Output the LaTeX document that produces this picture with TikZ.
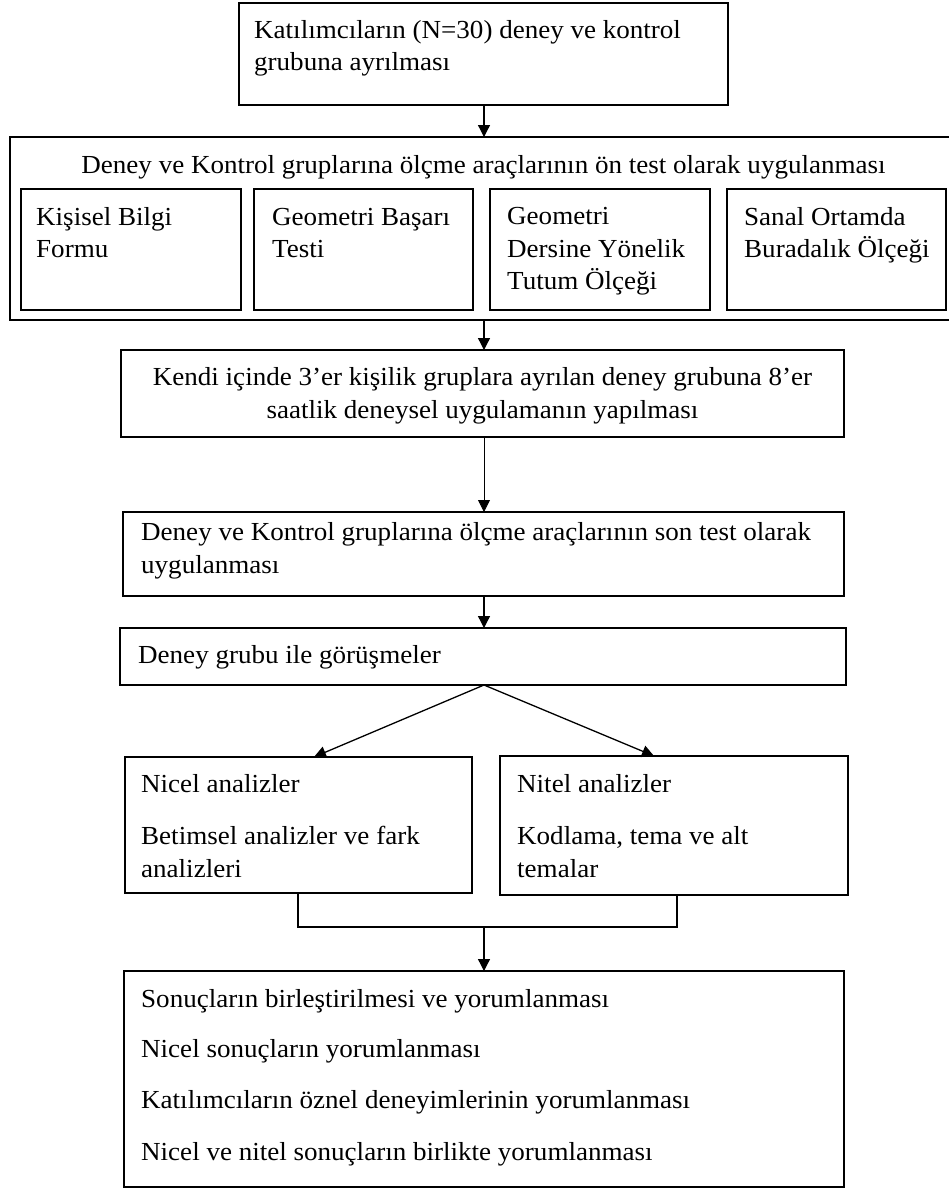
\documentclass[tikz,border=0pt]{standalone}
\usepackage{fontspec}
\setmainfont[FakeStretch=1.04]{Liberation Serif}
\usetikzlibrary{arrows.meta,calc}
\begin{document}
\begin{tikzpicture}[x=1pt,y=-1pt,
  box/.style={draw, line width=1.4pt, inner sep=0pt, outer sep=0pt, anchor=north west},
  ln/.style={inner sep=0pt, anchor=base west, font=\fontsize{26}{33}\selectfont},
  lnc/.style={ln, anchor=base},
  arr/.style={line width=1.3pt, -{Triangle[length=12pt,width=12pt]}},
  thinarr/.style={arr, line width=0.8pt},
  link/.style={line width=1.3pt},
]
\useasboundingbox (0,0) rectangle (948,1189);

% ---- boxes ----
\node[box, minimum width=489pt, minimum height=102pt] (top)   at (239,3)   {};
\node[box, minimum width=940pt, minimum height=183pt] (pre)   at (10,137)  {};
\node[box, minimum width=220pt, minimum height=121pt] (b1)    at (21,189)  {};
\node[box, minimum width=219pt, minimum height=121pt] (b2)    at (254,189) {};
\node[box, minimum width=220pt, minimum height=121pt] (b3)    at (490,189) {};
\node[box, minimum width=219pt, minimum height=121pt] (b4)    at (727,189) {};
\node[box, minimum width=723pt, minimum height=87pt]  (kendi) at (121,350) {};
\node[box, minimum width=721pt, minimum height=84pt]  (son)   at (123,512) {};
\node[box, minimum width=726pt, minimum height=57pt]  (gor)   at (120,628) {};
\node[box, minimum width=347pt, minimum height=136pt] (nicel) at (125,757) {};
\node[box, minimum width=348pt, minimum height=139pt] (nitel) at (500,756) {};
\node[box, minimum width=720pt, minimum height=216pt] (sonuc) at (124,971) {};

% ---- texts ----
\node[ln] (t1a) at ($(top.north west)+(15,35)$) {Katılımcıların (N=30) deney ve kontrol};
\node[ln] (t1b) at ($(top.north west)+(15,67)$) {grubuna ayrılması};

\node[lnc] (t2) at ($(top.south)+(0,68)$) {Deney ve Kontrol gruplarına ölçme araçlarının ön test olarak uygulanması};

\node[ln] (b1a) at ($(b1.north west)+(15,36)$) {Kişisel Bilgi};
\node[ln] (b1b) at ($(b1.north west)+(15,68)$) {Formu};
\node[ln] (b2a) at ($(b2.north west)+(18,36)$) {Geometri Başarı};
\node[ln] (b2b) at ($(b2.north west)+(18,68)$) {Testi};
\node[ln] (b3a) at ($(b3.north west)+(17,35)$) {Geometri};
\node[ln] (b3b) at ($(b3.north west)+(17,68)$) {Dersine Yönelik};
\node[ln] (b3c) at ($(b3.north west)+(17,100)$) {Tutum Ölçeği};
\node[ln] (b4a) at ($(b4.north west)+(17,36)$) {Sanal Ortamda};
\node[ln] (b4b) at ($(b4.north west)+(17,68)$) {Buradalık Ölçeği};

\node[lnc] (k1) at ($(kendi.north)+(0,35)$) {Kendi içinde 3’er kişilik gruplara ayrılan deney grubuna 8’er};
\node[lnc] (k2) at ($(kendi.north)+(0,68)$) {saatlik deneysel uygulamanın yapılması};

\node[ln] (s1) at ($(son.north west)+(18,28)$) {Deney ve Kontrol gruplarına ölçme araçlarının son test olarak};
\node[ln] (s2) at ($(son.north west)+(18,61)$) {uygulanması};

\node[ln] (g1) at ($(gor.north west)+(18,35)$) {Deney grubu ile görüşmeler};

\node[ln] (n1) at ($(nicel.north west)+(16,35)$) {Nicel analizler};
\node[ln] (n2) at ($(nicel.north west)+(16,87)$) {Betimsel analizler ve fark};
\node[ln] (n3) at ($(nicel.north west)+(16,120)$) {analizleri};

\node[ln] (q1) at ($(nitel.north west)+(17,36)$) {Nitel analizler};
\node[ln] (q2) at ($(nitel.north west)+(17,88)$) {Kodlama, tema ve alt};
\node[ln] (q3) at ($(nitel.north west)+(17,121)$) {temalar};

\node[ln] (r1) at ($(sonuc.north west)+(17,36)$) {Sonuçların birleştirilmesi ve yorumlanması};
\node[ln] (r2) at ($(sonuc.north west)+(17,86)$) {Nicel sonuçların yorumlanması};
\node[ln] (r3) at ($(sonuc.north west)+(17,137)$) {Katılımcıların öznel deneyimlerinin yorumlanması};
\node[ln] (r4) at ($(sonuc.north west)+(17,189)$) {Nicel ve nitel sonuçların birlikte yorumlanması};

% ---- connectors ----
\coordinate (axis) at ($(top.south)+(0.5,0)$);
\draw[arr] (axis) -- (axis |- pre.north);
\draw[arr] (axis |- pre.south) -- (axis |- kendi.north);
\draw[thinarr] (axis |- kendi.south) -- (axis |- son.north);
\draw[arr] (axis |- son.south) -- (axis |- gor.north);

\coordinate (gorb) at (axis |- gor.south);
\coordinate (nicelin) at ($(nicel.north west)+(189,0)$);
\coordinate (nitelin) at ($(nitel.north west)+(154,0)$);
\draw[arr] (gorb) -- (nicelin);
\draw[arr] (gorb) -- (nitelin);

\coordinate (nicelout) at ($(nicel.south west)+(173,0)$);
\coordinate (nitelout) at ($(nitel.south west)+(177,0)$);
\coordinate (join) at ($(nicelout)+(0,34)$);
\draw[link] (nicelout) -- (join) -| (nitelout);
\draw[arr] (axis |- join) -- (axis |- sonuc.north);
\end{tikzpicture}
\end{document}
